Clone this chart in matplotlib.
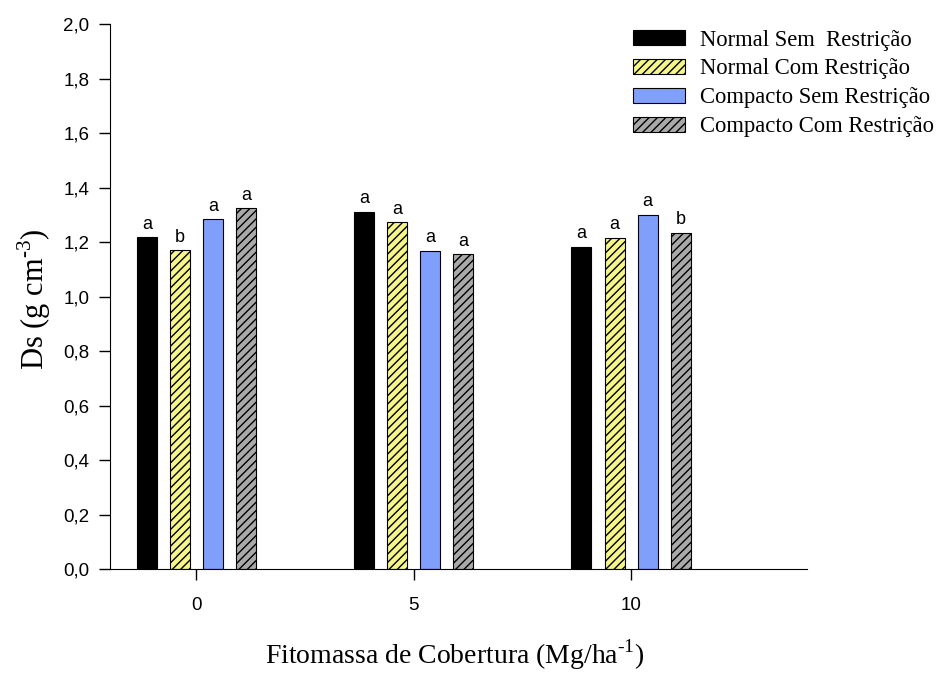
import matplotlib
matplotlib.use("Agg")
import matplotlib.pyplot as plt
import numpy as np

# Dados
fitomassa = ["0", "5", "10"]
series = ["Normal Sem  Restrição", "Normal Com Restrição",
          "Compacto Sem Restrição", "Compacto Com Restrição"]
ds_normal_sem = [1.217, 1.311, 1.183]
ds_normal_com = [1.171, 1.273, 1.216]
ds_compacto_sem = [1.284, 1.168, 1.300]
ds_compacto_com = [1.325, 1.156, 1.234]
letras = [
    ["a", "a", "a"],
    ["b", "a", "a"],
    ["a", "a", "a"],
    ["a", "a", "b"],
]

valores = [ds_normal_sem, ds_normal_com, ds_compacto_sem, ds_compacto_com]
cores = ["#000000", "#f6f68a", "#7f9ffa", "#a9a9a9"]
hachuras = [None, "////", None, "////"]

plt.rcParams["hatch.linewidth"] = 1.0
plt.rcParams["mathtext.fontset"] = "custom"
plt.rcParams["mathtext.rm"] = "Liberation Serif"

fig = plt.figure(figsize=(9.44, 6.75), dpi=100)
ax = fig.add_axes([0.1165, 0.157, 0.7384, 0.8074])

x = np.arange(len(fitomassa))
largura = 0.092
passo = 0.152

for i, (vals, cor, hatch, nome) in enumerate(zip(valores, cores, hachuras, series)):
    pos = x + (i - 1.5) * passo
    barras = ax.bar(pos, vals, largura, color=cor, edgecolor="black",
                    linewidth=0.8, hatch=hatch, label=nome)
    for b, v, letra in zip(barras, vals, letras[i]):
        ax.text(b.get_x() + b.get_width() / 2, v + 0.016, letra,
                ha="center", va="bottom", fontsize=13, family="Liberation Sans")

ax.set_xlim(-0.398, 2.810)
ax.set_ylim(0, 2.0)
ax.set_xticks(x)
ax.set_xticklabels(fitomassa)
yt = np.arange(0, 2.01, 0.2)
ax.set_yticks(yt)
ax.set_yticklabels([f"{v:.1f}".replace(".", ",") for v in yt])

for lab in ax.get_xticklabels() + ax.get_yticklabels():
    lab.set_family("Liberation Sans")
    lab.set_fontsize(13.5)

ax.tick_params(axis="y", direction="out", length=8, width=1, pad=7)
ax.tick_params(axis="x", direction="out", length=8, width=1, pad=12)
ax.spines["top"].set_visible(False)
ax.spines["right"].set_visible(False)

fig.text(0.036, 0.556, r"Ds (g cm$^{\mathrm{\text{-}3}}$)", rotation=90,
         ha="center", va="center", fontsize=22, family="Liberation Serif")
fig.text(0.482, 0.03, r"Fitomassa de Cobertura (Mg/ha$^{\mathrm{\text{-}1}}$)",
         ha="center", va="center", fontsize=20, family="Liberation Serif")

fig.legend(loc="upper left", bbox_to_anchor=(0.6607, 0.9696), frameon=False,
           prop={"family": "Liberation Serif", "size": 16.3},
           handlelength=2.3, handleheight=0.66, labelspacing=0.35,
           handletextpad=0.66, borderaxespad=0)

fig.savefig("out.png", dpi=100)
